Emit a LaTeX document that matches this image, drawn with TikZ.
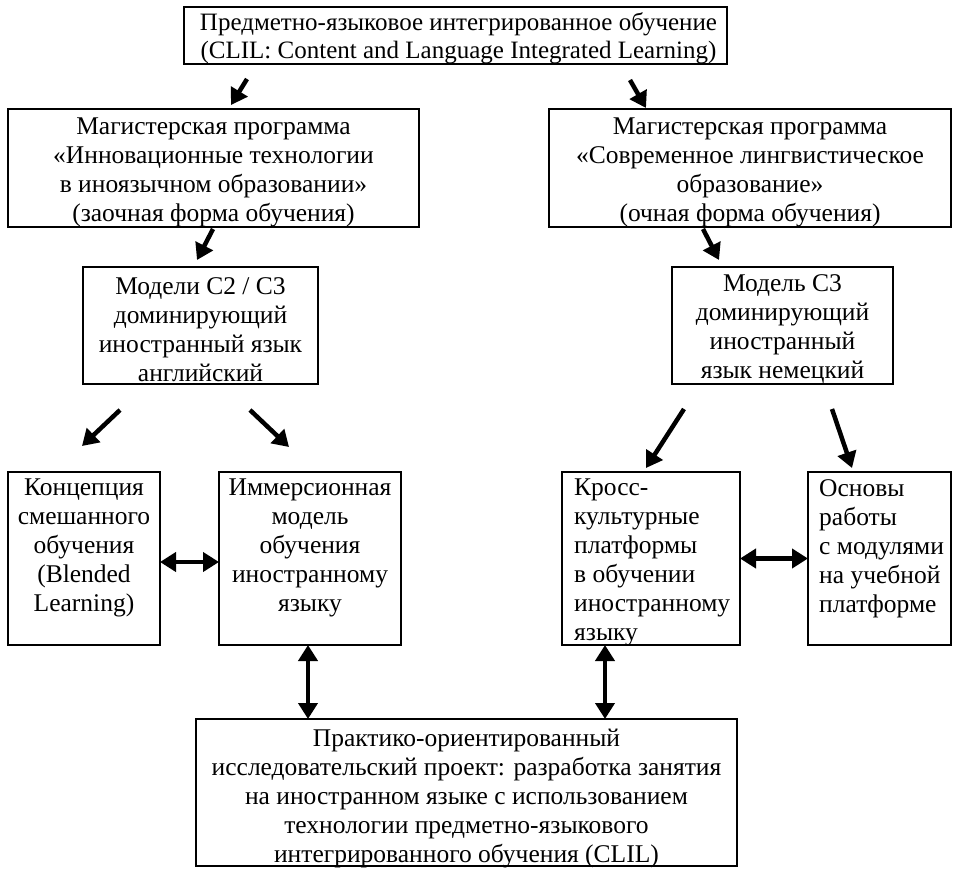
\documentclass[tikz,border=0pt]{standalone}
\usepackage{fontspec}
\setmainfont{Liberation Serif}
\usetikzlibrary{arrows.meta,shadows}
\begin{document}
\begin{tikzpicture}[x=1pt,y=-1pt,
  box/.style={draw, line width=1.3pt, fill=white, inner sep=0pt, outer sep=0pt, anchor=north west,
    drop shadow={shadow xshift=1.2pt, shadow yshift=-1.2pt, fill=black, opacity=1}},
  ctxt/.style={inner sep=0pt, anchor=center, align=center, font=\fontsize{25.5}{29}\selectfont},
  txt/.style={inner sep=0pt, anchor=north, align=center, font=\fontsize{25.5}{29}\selectfont},
  ltxt/.style={inner sep=0pt, anchor=north west, align=left, font=\fontsize{25.5}{29}\selectfont},
  arr/.style={line width=4.5pt, -{Triangle[length=16pt,width=19pt]}},
  darr/.style={line width=4.5pt, {Triangle[length=16pt,width=19pt]}-{Triangle[length=16pt,width=19pt]}}]
\useasboundingbox (0,0) rectangle (961,872);

\node[box, minimum width=543pt, minimum height=57pt] (top) at (184,7) {};
\node[box, minimum width=411pt, minimum height=118pt] (lm) at (8,109) {};
\node[box, minimum width=402pt, minimum height=118pt] (rm) at (549,109) {};
\node[box, minimum width=235pt, minimum height=117pt] (ml) at (83,267) {};
\node[box, minimum width=221pt, minimum height=117pt] (mr) at (672,267) {};
\node[box, minimum width=152pt, minimum height=173pt] (k1) at (8,472) {};
\node[box, minimum width=182pt, minimum height=173pt] (k2) at (219,472) {};
\node[box, minimum width=178pt, minimum height=173pt] (k3) at (562,472) {};
\node[box, minimum width=143pt, minimum height=173pt] (k4) at (808,472) {};
\node[box, minimum width=541pt, minimum height=147pt] (bot) at (196,719) {};

\node[ctxt, font=\fontsize{25}{28}\selectfont] (ttop) at ([xshift=3pt,yshift=-3pt]top.center)
  {Предметно-языковое интегрированное обучение\\(CLIL: Content and Language Integrated Learning)};
\node[ctxt] (tlm) at ([yshift=-4pt]lm.center)
  {Магистерская программа\\«Инновационные технологии\\в иноязычном образовании»\\(заочная форма обучения)};
\node[ctxt] (trm) at ([yshift=-4pt]rm.center)
  {Магистерская программа\\«Современное лингвистическое\\образование»\\(очная форма обучения)};
\node[ctxt] (tml) at ([yshift=-4pt]ml.center)
  {Модели С2 / С3\\доминирующий\\иностранный язык\\английский};
\node[ctxt] (tmr) at ([yshift=-4pt]mr.center)
  {Модель С3\\доминирующий\\иностранный\\язык немецкий};
\node[ctxt] (tbot) at ([yshift=-6pt]bot.center)
  {Практико-ориентированный\\исследовательский проект: разработка занятия\\на иностранном языке с использованием\\технологии предметно-языкового\\интегрированного обучения (CLIL)};

\node[txt] (t1) at (84,479) {Концепция\\смешанного\\обучения\\(Blended\\Learning)};
\node[txt] (t2) at (310,479) {Иммерсионная\\модель\\обучения\\иностранному\\языку};
\node[ltxt] (t3) at (574,479) {Кросс-\\культурные\\платформы\\в обучении\\иностранному\\языку};
\node[ltxt] (t4) at (819,479) {Основы\\работы\\с модулями\\на учебной\\платформе};

\coordinate (a1s) at (247,79);  \coordinate (a1e) at (231,105);
\coordinate (a2s) at (630,80);  \coordinate (a2e) at (646,108);
\coordinate (a3s) at (213,229); \coordinate (a3e) at (197,260);
\coordinate (a4s) at (703,229); \coordinate (a4e) at (719,260);
\coordinate (a5s) at (120,410); \coordinate (a5e) at (82,446);
\coordinate (a6s) at (250,410); \coordinate (a6e) at (289,447);
\coordinate (a7s) at (684,409); \coordinate (a7e) at (646,468);
\coordinate (a8s) at (832,409); \coordinate (a8e) at (852,468);
\foreach \i in {1,...,8} {\draw[arr] (a\i s) -- (a\i e);}

\draw[darr] ([yshift=-3.5pt]k1.east) -- ([yshift=-3.5pt]k2.west);
\draw[darr] (k3.east) -- (k4.west);
\draw[darr] ([xshift=-2pt]k2.south) -- ([xshift=-2pt]k2.south |- bot.north);
\draw[darr] ([xshift=-46pt]k3.south) -- ([xshift=-46pt]k3.south |- bot.north);
\end{tikzpicture}
\end{document}
